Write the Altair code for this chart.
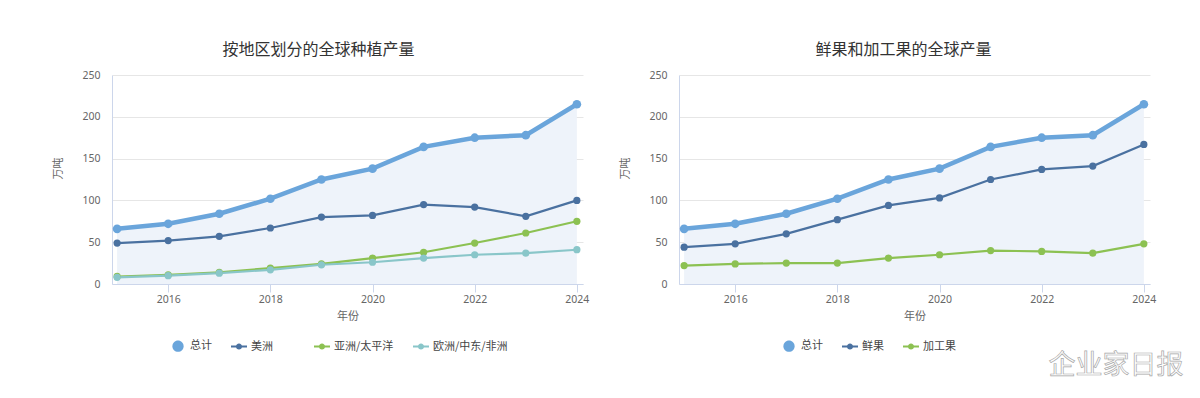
import altair as alt
import pandas as pd

years = list(range(2015, 2025))

region_series = ["总计", "美洲", "亚洲/太平洋", "欧洲/中东/非洲"]
total = [66, 72, 84, 102, 125, 138, 164, 175, 178, 215]
americas = [49, 52, 57, 67, 80, 82, 95, 92, 81, 100]
apac = [9, 11, 14, 19, 24, 31, 38, 49, 61, 75]
emea = [8, 10, 13, 17, 23, 26, 31, 35, 37, 41]

fruit_series = ["总计", "鲜果", "加工果"]
fresh = [44, 48, 60, 77, 94, 103, 125, 137, 141, 167]
processed = [22, 24, 25, 25, 31, 35, 40, 39, 37, 48]

y_ticks = [0, 50, 100, 150, 200, 250]
x_ticks = [2016, 2018, 2020, 2022, 2024]

C_TOTAL = "#6aa5db"
C_DARK = "#4a71a0"
C_GREEN = "#8cc152"
C_TEAL = "#89c6c9"

CJK = "Noto Sans CJK SC"
NUM = "Noto Sans"

CIRCLE = "M0.7,0 A0.7,0.7 0 1,1 -0.7,0 A0.7,0.7 0 1,1 0.7,0 Z"
LINE = "M-1,-0.12 H1 V0.12 H-1 Z M0.38,0 A0.38,0.38 0 1,1 -0.38,0 A0.38,0.38 0 1,1 0.38,0 Z"

W, H = 471, 209


def long_df(series, values):
    rows = []
    for s, vals in zip(series, values):
        for yr, v in zip(years, vals):
            rows.append({"year": yr, "value": v, "series": s})
    return pd.DataFrame(rows)


def panel(title, title_dx, series, values, colors, legend_x, label_expr, extra=None):
    df = long_df(series, values)
    tot = df[df["series"] == "总计"]
    rest = df[df["series"] != "总计"]
    x = alt.X("year:Q",
              scale=alt.Scale(domain=[2014.9, 2024.12], nice=False, zero=False),
              axis=alt.Axis(values=x_ticks, format="d", title="年份", grid=False,
                            domainColor="#ccd6eb", tickColor="#ccd6eb", tickSize=8,
                            labelPadding=2, labelFont=NUM, labelFontSize=10.5,
                            labelColor="#666", titleFont=CJK, titleFontSize=11,
                            titleColor="#666", titleFontWeight="normal", titlePadding=6))
    y = alt.Y("value:Q",
              scale=alt.Scale(domain=[0, 250], nice=False),
              axis=alt.Axis(values=y_ticks, title="万吨", grid=True, gridColor="#e6e6e6",
                            domainColor="#ccd6eb", ticks=False, labelPadding=12,
                            labelFont=NUM, labelFontSize=10.5, labelColor="#666",
                            titleFont=CJK, titleFontSize=11, titleColor="#666",
                            titleFontWeight="normal", titlePadding=18, titleY=93))
    cscale = alt.Scale(domain=series, range=colors)
    shape_scale = alt.Scale(domain=series, range=[CIRCLE] + [LINE] * (len(series) - 1))
    leg = alt.Legend(orient="none", legendX=legend_x, legendY=263, direction="horizontal",
                     title=None, symbolSize=256, symbolOpacity=1, symbolStrokeWidth=0,
                     labelFont=CJK, labelFontSize=11, labelColor="#444",
                     labelOffset=4, columnPadding=19, labelExpr=label_expr)
    color = alt.Color("series:N", scale=cscale)

    area = alt.Chart(tot).mark_area(color="#eef3fa").encode(x=x, y=y)
    legend_layer = alt.Chart(df).mark_point(filled=True, opacity=0).encode(
        x=x, y=y,
        color=alt.Color("series:N", scale=cscale, legend=leg),
        shape=alt.Shape("series:N", scale=shape_scale, legend=leg),
    )
    tot_line = alt.Chart(tot).mark_line(strokeWidth=4.5).encode(x=x, y=y, color=color)
    tot_pts = alt.Chart(tot).mark_circle(opacity=1, size=75).encode(x=x, y=y, color=color)
    rest_line = alt.Chart(rest).mark_line(strokeWidth=2.2).encode(x=x, y=y, color=color)
    rest_pts = alt.Chart(rest).mark_circle(opacity=1, size=52).encode(x=x, y=y, color=color)
    layers = [area, legend_layer, tot_line, tot_pts, rest_line, rest_pts]
    if extra is not None:
        layers.append(extra)
    return alt.layer(*layers).properties(
        width=W, height=H,
        title=alt.TitleParams(title, font=CJK, fontSize=16, fontWeight="normal",
                              color="#333", anchor="middle", dx=title_dx, offset=12),
    )


left = panel("按地区划分的全球种植产量", -29, region_series,
             [total, americas, apac, emea], [C_TOTAL, C_DARK, C_GREEN, C_TEAL], 58,
             "datum.label == '美洲' ? '美洲\u3000\u3000\u200b' : datum.label")

wm = alt.Chart(pd.DataFrame({"t": ["企业家日报"]})).mark_text(
    font=CJK, fontSize=27, fill="#ffffff", stroke="#a8a8a8", strokeWidth=0.7,
    align="center", baseline="middle"
).encode(text="t:N", x=alt.value(437), y=alt.value(291))

right = panel("鲜果和加工果的全球产量", -11, fruit_series,
              [total, fresh, processed], [C_TOTAL, C_DARK, C_GREEN], 102,
              "datum.label", extra=wm)

chart = alt.hconcat(left, right, spacing=30).resolve_scale(
    color="independent", shape="independent"
).properties(
    padding={"left": 44, "top": 34, "right": 0, "bottom": 0},
    background="white",
).configure_view(stroke=None)

chart.save("out.html", embed_options={"renderer": "svg", "actions": False})
